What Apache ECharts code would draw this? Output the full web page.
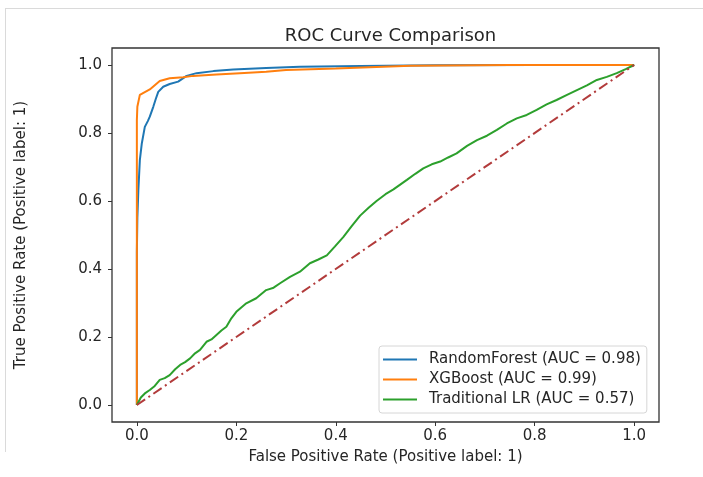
<!DOCTYPE html>
<html>
<head>
<meta charset="utf-8">
<script src="https://cdn.jsdelivr.net/npm/echarts@6/dist/echarts.min.js"></script>
<style>
html,body{margin:0;padding:0;background:#fff;}
#chart{width:703px;height:477px;}
</style>
</head>
<body>
<div id="chart"></div>
<script>
var titleText = 'ROC Curve Comparison';
var xName = 'False Positive Rate (Positive label: 1)';
var yName = 'True Positive Rate (Positive label: 1)';
var tickValues = [0, 0.2, 0.4, 0.6, 0.8, 1.0];
var seriesNames = ['RandomForest (AUC = 0.98)', 'XGBoost (AUC = 0.99)', 'Traditional LR (AUC = 0.57)'];

var rfFpr = [0, 0, 0.001, 0.003, 0.006, 0.010, 0.016, 0.022, 0.026, 0.033, 0.038, 0.043, 0.053, 0.066, 0.083, 0.100, 0.120, 0.154, 0.194, 0.260, 0.328, 0.450, 0.600, 0.800, 1.0];
var rfTpr = [0, 0.45, 0.55, 0.632, 0.720, 0.770, 0.818, 0.835, 0.848, 0.877, 0.900, 0.921, 0.936, 0.944, 0.951, 0.968, 0.976, 0.982, 0.987, 0.991, 0.995, 0.997, 0.999, 1.0, 1.0];

var xgbFpr = [0, 0, 0.001, 0.006, 0.026, 0.046, 0.066, 0.093, 0.113, 0.160, 0.207, 0.260, 0.300, 0.400, 0.550, 0.750, 1.0];
var xgbTpr = [0, 0.838, 0.877, 0.912, 0.928, 0.953, 0.961, 0.964, 0.968, 0.972, 0.976, 0.980, 0.985, 0.990, 0.998, 1.0, 1.0];

var lrFpr = [0, 0.008, 0.016, 0.026, 0.036, 0.046, 0.056, 0.066, 0.077, 0.087, 0.097, 0.107, 0.117, 0.127, 0.140, 0.150, 0.160, 0.170, 0.180, 0.190, 0.200, 0.210, 0.220, 0.240, 0.260, 0.275, 0.288, 0.308, 0.328, 0.348, 0.365, 0.382, 0.398, 0.415, 0.432, 0.449, 0.466, 0.482, 0.500, 0.516, 0.543, 0.560, 0.576, 0.593, 0.610, 0.626, 0.643, 0.664, 0.684, 0.704, 0.724, 0.744, 0.764, 0.784, 0.804, 0.824, 0.844, 0.865, 0.885, 0.905, 0.925, 0.945, 0.965, 0.983, 1.0];
var lrTpr = [0, 0.022, 0.034, 0.044, 0.056, 0.074, 0.079, 0.088, 0.105, 0.118, 0.126, 0.137, 0.152, 0.162, 0.186, 0.193, 0.206, 0.219, 0.230, 0.255, 0.274, 0.287, 0.299, 0.314, 0.338, 0.345, 0.358, 0.377, 0.392, 0.417, 0.428, 0.440, 0.466, 0.494, 0.526, 0.557, 0.580, 0.600, 0.620, 0.634, 0.662, 0.680, 0.696, 0.708, 0.716, 0.728, 0.740, 0.762, 0.779, 0.792, 0.809, 0.828, 0.843, 0.853, 0.868, 0.884, 0.897, 0.912, 0.926, 0.940, 0.956, 0.965, 0.976, 0.988, 1.0];

var diagFpr = [0, 1];
var diagTpr = [0, 1];

function zip(a, b) { return a.map(function (v, i) { return [v, b[i]]; }); }

var chart = echarts.init(document.getElementById('chart'), null, {renderer: 'canvas'});
var font = 'DejaVu Sans';
var axisCommon = {
  type: 'value', min: -0.05, max: 1.05,
  axisLine: {show: false, onZero: false},
  axisTick: {show: true, inside: false, length: 4, lineStyle: {color: '#333', width: 1}, customValues: tickValues},
  axisLabel: {customValues: tickValues, fontFamily: font, fontSize: 15, color: '#262626',
    formatter: function (v) { return v.toFixed(1); }},
  splitLine: {show: false},
  nameLocation: 'middle',
  nameTextStyle: {fontFamily: font, fontSize: 15, color: '#262626'}
};
chart.setOption({
  animation: false,
  backgroundColor: '#fff',
  title: {text: titleText, left: 385.5, textAlign: 'center', top: 22,
    textStyle: {fontFamily: font, fontSize: 18, fontWeight: 'normal', color: '#262626'}},
  grid: {left: 112, top: 48, right: 44, bottom: 55, show: true, borderColor: '#333', borderWidth: 1.3, backgroundColor: 'transparent'},
  xAxis: Object.assign({}, axisCommon, {name: xName, nameGap: 28,
    axisLabel: Object.assign({}, axisCommon.axisLabel, {margin: 7})}),
  yAxis: Object.assign({}, axisCommon, {name: yName, nameGap: 83,
    axisLabel: Object.assign({}, axisCommon.axisLabel, {margin: 10})}),
  legend: {
    data: seriesNames, orient: 'vertical', left: 379, top: 346,
    padding: [5, 6, 5, 4], itemGap: 3, itemWidth: 34, itemHeight: 2, icon: 'rect',
    borderColor: '#d6d6d6', borderWidth: 1, borderRadius: 3, backgroundColor: 'rgba(255,255,255,0.85)',
    textStyle: {fontFamily: font, fontSize: 15, lineHeight: 17, color: '#262626', padding: [0, 0, 0, 7]}
  },
  graphic: [
    {type: 'line', shape: {x1: 5, y1: 8.5, x2: 703, y2: 8.5}, style: {stroke: '#dadada', lineWidth: 1}, silent: true},
    {type: 'line', shape: {x1: 5.5, y1: 8, x2: 5.5, y2: 452}, style: {stroke: '#dadada', lineWidth: 1}, silent: true}
  ],
  series: [
    {name: seriesNames[0], type: 'line', data: zip(rfFpr, rfTpr), symbol: 'none',
      lineStyle: {color: '#1f77b4', width: 2}, itemStyle: {color: '#1f77b4'}},
    {name: seriesNames[1], type: 'line', data: zip(xgbFpr, xgbTpr), symbol: 'none',
      lineStyle: {color: '#ff7f0e', width: 2}, itemStyle: {color: '#ff7f0e'}},
    {name: seriesNames[2], type: 'line', data: zip(lrFpr, lrTpr), symbol: 'none',
      lineStyle: {color: '#2ca02c', width: 2}, itemStyle: {color: '#2ca02c'}},
    {name: 'diag', type: 'line', data: zip(diagFpr, diagTpr), symbol: 'none',
      lineStyle: {color: '#b23b3b', width: 2, type: [10, 4, 2, 4]}, itemStyle: {color: '#b23b3b'}}
  ]
});
</script>
</body>
</html>
